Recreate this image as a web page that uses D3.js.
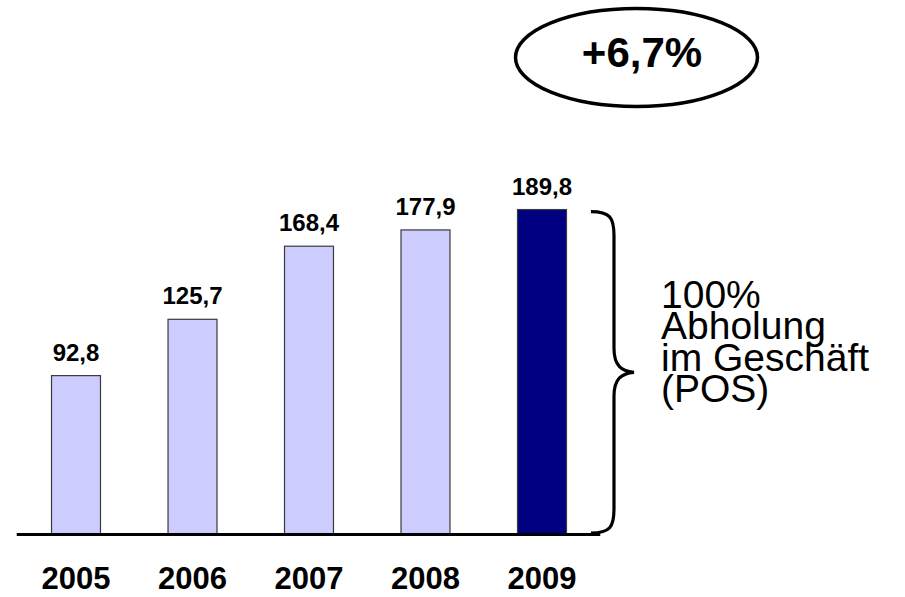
<!DOCTYPE html>
<html>
<head>
<meta charset="utf-8">
<script src="https://cdn.jsdelivr.net/npm/d3@7"></script>
<style>
  html, body { margin: 0; padding: 0; background: #fff; }
  svg { display: block; }
  text { font-family: "Liberation Sans", Arial, Helvetica, sans-serif; fill: #000; }
</style>
</head>
<body>
<svg id="chart" width="905" height="597"></svg>
<script>
// Yearly values (comma as decimal separator in labels)
const years = ["2005", "2006", "2007", "2008", "2009"];
const values = [92.8, 125.7, 168.4, 177.9, 189.8];
const valueLabels = ["92,8", "125,7", "168,4", "177,9", "189,8"];
const growthLabel = "+6,7%";
const braceLines = ["100%", "Abholung", "im Geschäft", "(POS)"];
const highlightYear = "2009";

const svg = d3.select("#chart");

const x = d3.scaleBand()
  .domain(years)
  .range([17.75, 600.25])
  .paddingInner(0.571)
  .paddingOuter(0.2855);

const y = d3.scaleLinear()
  .domain([0, 200])
  .range([534, 191.6]);

const data = years.map((yr, i) => ({ year: yr, value: values[i], label: valueLabels[i] }));

// Bars
svg.append("g").selectAll("rect")
  .data(data)
  .join("rect")
  .attr("x", d => x(d.year) + 0.5)
  .attr("y", d => y(d.value) + 0.5)
  .attr("width", x.bandwidth() - 1)
  .attr("height", d => y(0) - y(d.value) - 0.5)
  .attr("fill", d => d.year === highlightYear ? "#000080" : "#ccccff")
  .attr("stroke", "#3a3a3a")
  .attr("stroke-width", 1.2);

// Value labels above bars
svg.append("g").selectAll("text")
  .data(data)
  .join("text")
  .attr("x", d => x(d.year) + x.bandwidth() / 2)
  .attr("y", d => y(d.value) - 14.5)
  .attr("text-anchor", "middle")
  .attr("font-size", 24)
  .attr("font-weight", "bold")
  .text(d => d.label);

// Baseline
svg.append("line")
  .attr("x1", x.range()[0] - 1)
  .attr("x2", x.range()[1])
  .attr("y1", y(0) + 0.5)
  .attr("y2", y(0) + 0.5)
  .attr("stroke", "#000")
  .attr("stroke-width", 3);

// Year labels via bottom axis (no domain/ticks)
const xAxis = svg.append("g")
  .attr("transform", `translate(0,${y(0)})`)
  .call(d3.axisBottom(x).tickSize(0).tickPadding(0));
xAxis.select(".domain").remove();
xAxis.selectAll("text")
  .attr("dy", null)
  .attr("y", 55)
  .attr("font-size", 31)
  .attr("font-weight", "bold")
  .attr("font-family", "'Liberation Sans', Arial, sans-serif")
  .attr("fill", "#000");

// Curly brace spanning the highlighted bar
const hv = values[years.indexOf(highlightYear)];
const bTop = y(hv) + 2.5;
const bBot = y(0) - 1;
const bMid = (bTop + bBot) / 2;
const bx0 = x(highlightYear) + x.bandwidth() + 24;
const bx1 = bx0 + 23;
const bTip = bx0 + 43;
const brace = d3.path();
brace.moveTo(bx0, bTop);
brace.bezierCurveTo(bx1 - 4, bTop, bx1, bTop + 6, bx1, bTop + 24);
brace.lineTo(bx1, bMid - 24);
brace.bezierCurveTo(bx1, bMid - 6, bx1 + 8, bMid - 1, bTip, bMid);
brace.bezierCurveTo(bx1 + 8, bMid + 1, bx1, bMid + 6, bx1, bMid + 24);
brace.lineTo(bx1, bBot - 24);
brace.bezierCurveTo(bx1, bBot - 6, bx1 - 4, bBot, bx0, bBot);
svg.append("path")
  .attr("d", brace.toString())
  .attr("fill", "none")
  .attr("stroke", "#000")
  .attr("stroke-width", 3.2);

// Brace annotation
const annot = svg.append("text")
  .attr("font-size", 39);
braceLines.forEach((t, i) => {
  annot.append("tspan")
    .attr("x", 661)
    .attr("y", 308 + i * 31.4)
    .text(t);
});

// Growth ellipse
svg.append("ellipse")
  .attr("cx", 636.5)
  .attr("cy", 57.5)
  .attr("rx", 121)
  .attr("ry", 49)
  .attr("fill", "none")
  .attr("stroke", "#000")
  .attr("stroke-width", 3.5);
svg.append("text")
  .attr("x", 642)
  .attr("y", 67)
  .attr("text-anchor", "middle")
  .attr("font-size", 42)
  .attr("font-weight", "bold")
  .text(growthLabel);
</script>
</body>
</html>
